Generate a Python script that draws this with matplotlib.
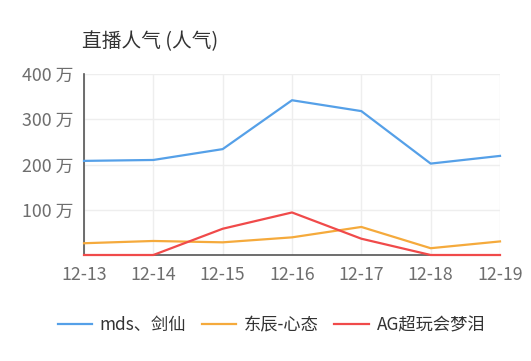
import matplotlib
matplotlib.use("Agg")
import matplotlib.pyplot as plt
from matplotlib.ticker import FuncFormatter

plt.rcParams["font.family"] = ["Noto Sans CJK SC", "DejaVu Sans"]

# data (unit: 万)
dates = ["12-13", "12-14", "12-15", "12-16", "12-17", "12-18", "12-19"]
mds = [208, 210, 234, 342, 318, 202, 219]
dongchen = [26, 31, 28, 39, 62, 15, 30]
ag = [0, 0, 58, 94, 36, 0, 0]
names = ["mds、剑仙", "东辰-心态", "AG超玩会梦泪"]
colors = ["#55a0e8", "#f5aa3c", "#f04a4a"]

fig = plt.figure(figsize=(5.31, 3.61), dpi=100)
ax = fig.add_axes([84 / 531, 1 - 255 / 361, 416 / 531, 181 / 361])

x = list(range(len(dates)))
for vals, name, c in zip([mds, dongchen, ag], names, colors):
    ax.plot(x, vals, color=c, linewidth=1.6, label=name, clip_on=False, zorder=3)

ax.set_xlim(0, len(dates) - 1)
ax.set_ylim(0, 400)
ax.set_xticks(x)
ax.set_xticklabels(dates)
ax.set_yticks([100, 200, 300, 400])
ax.yaxis.set_major_formatter(FuncFormatter(lambda v, p: f"{int(v)} 万"))

ax.grid(True, color="#eeeeee", linewidth=1)
ax.set_axisbelow(True)
for s in ["top", "right"]:
    ax.spines[s].set_visible(False)
for s in ["left", "bottom"]:
    ax.spines[s].set_color("#555555")
    ax.spines[s].set_linewidth(1.2)
ax.tick_params(axis="both", length=0, labelsize=12.8, colors="#6e6e6e")
ax.tick_params(axis="x", pad=8)
ax.tick_params(axis="y", pad=8)

fig.text(82 / 531, 1 - 42 / 361, "直播人气 (人气)", fontsize=14.2, color="#333333",
         ha="left", va="center")

fig.legend(loc="center", bbox_to_anchor=(0.511, 1 - 325 / 361), ncol=3,
           frameon=False, fontsize=12.4, handlelength=2.0, columnspacing=0.9,
           handletextpad=0.45, labelcolor="#333333")

fig.savefig("out.png", dpi=100)
